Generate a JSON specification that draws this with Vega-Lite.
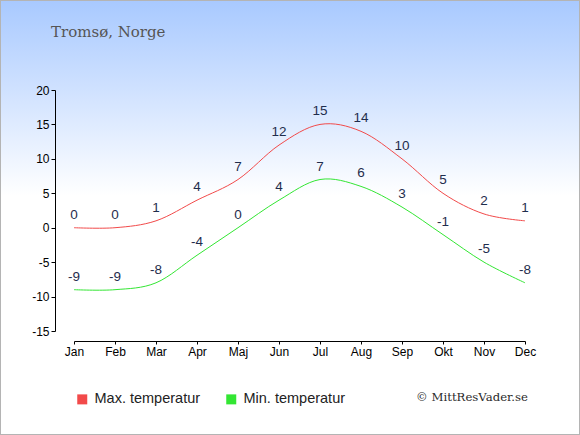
{
  "$schema": "https://vega.github.io/schema/vega-lite/v6.json",
  "width": 580,
  "height": 435,
  "autosize": {"type": "none"},
  "padding": 0,
  "background": "#ffffff",
  "view": {
    "fill": {
      "gradient": "linear",
      "x1": 0, "y1": 0, "x2": 0, "y2": 1,
      "stops": [
        {"offset": 0, "color": "#a8c9ff"},
        {"offset": 0.22, "color": "#d2e3ff"},
        {"offset": 0.45, "color": "#ffffff"},
        {"offset": 1, "color": "#ffffff"}
      ]
    },
    "stroke": "#b4b4b4",
    "strokeWidth": 2
  },
  "title": {
    "text": "Tromsø, Norge",
    "anchor": "start",
    "frame": "group",
    "font": "DejaVu Serif",
    "fontSize": 15,
    "fontWeight": "normal",
    "color": "#555555",
    "baseline": "alphabetic",
    "offset": 0,
    "dx": 51,
    "dy": 52
  },
  "datasets": {
    "temps": [
      {"month": "Jan", "serie": "Max. temperatur", "temp": 0},
      {"month": "Feb", "serie": "Max. temperatur", "temp": 0},
      {"month": "Mar", "serie": "Max. temperatur", "temp": 1},
      {"month": "Apr", "serie": "Max. temperatur", "temp": 4},
      {"month": "Maj", "serie": "Max. temperatur", "temp": 7},
      {"month": "Jun", "serie": "Max. temperatur", "temp": 12},
      {"month": "Jul", "serie": "Max. temperatur", "temp": 15},
      {"month": "Aug", "serie": "Max. temperatur", "temp": 14},
      {"month": "Sep", "serie": "Max. temperatur", "temp": 10},
      {"month": "Okt", "serie": "Max. temperatur", "temp": 5},
      {"month": "Nov", "serie": "Max. temperatur", "temp": 2},
      {"month": "Dec", "serie": "Max. temperatur", "temp": 1},
      {"month": "Jan", "serie": "Min. temperatur", "temp": -9},
      {"month": "Feb", "serie": "Min. temperatur", "temp": -9},
      {"month": "Mar", "serie": "Min. temperatur", "temp": -8},
      {"month": "Apr", "serie": "Min. temperatur", "temp": -4},
      {"month": "Maj", "serie": "Min. temperatur", "temp": 0},
      {"month": "Jun", "serie": "Min. temperatur", "temp": 4},
      {"month": "Jul", "serie": "Min. temperatur", "temp": 7},
      {"month": "Aug", "serie": "Min. temperatur", "temp": 6},
      {"month": "Sep", "serie": "Min. temperatur", "temp": 3},
      {"month": "Okt", "serie": "Min. temperatur", "temp": -1},
      {"month": "Nov", "serie": "Min. temperatur", "temp": -5},
      {"month": "Dec", "serie": "Min. temperatur", "temp": -8}
    ],
    "note": [
      {"label": "© MittResVader.se"}
    ]
  },
  "layer": [
    {
      "data": {"name": "temps"},
      "encoding": {
        "x": {
          "field": "month",
          "type": "ordinal",
          "scale": {
            "type": "point",
            "domain": ["Jan", "Feb", "Mar", "Apr", "Maj", "Jun", "Jul", "Aug", "Sep", "Okt", "Nov", "Dec"],
            "range": [74, 525],
            "padding": 0
          },
          "axis": {
            "title": null,
            "orient": "bottom",
            "offset": -94,
            "labelAngle": 0,
            "tickSize": 3,
            "labelPadding": 2
          }
        },
        "y": {
          "field": "temp",
          "type": "quantitative",
          "scale": {"domain": [-15, 20], "range": [331, 90], "nice": false, "zero": false},
          "axis": {
            "title": null,
            "orient": "left",
            "offset": -55,
            "values": [-15, -10, -5, 0, 5, 10, 15, 20],
            "tickSize": 4,
            "labelPadding": 2
          }
        }
      },
      "layer": [
        {
          "mark": {"type": "line", "interpolate": "cardinal", "strokeWidth": 1},
          "encoding": {
            "color": {
              "field": "serie",
              "type": "nominal",
              "scale": {
                "domain": ["Max. temperatur", "Min. temperatur"],
                "range": ["#f24a4a", "#33e633"]
              },
              "legend": {
                "title": null,
                "orient": "none",
                "legendX": 75,
                "legendY": 392,
                "direction": "horizontal",
                "symbolType": "square",
                "symbolSize": 100,
                "symbolStrokeWidth": 0,
                "labelOffset": 5,
                "columnPadding": 23,
                "labelFont": "Liberation Sans",
                "labelFontSize": 14.5,
                "labelColor": "#222222",
                "encode": {
                  "symbols": {
                    "update": {
                      "fill": {"scale": "color", "field": "value"},
                      "opacity": {"value": 1}
                    }
                  }
                }
              }
            }
          }
        },
        {
          "mark": {
            "type": "text",
            "dy": -13,
            "font": "Liberation Sans",
            "fontSize": 13.5,
            "color": "#1f2d4d"
          },
          "encoding": {
            "text": {"field": "temp", "type": "quantitative"}
          }
        }
      ]
    },
    {
      "data": {"name": "note"},
      "mark": {
        "type": "text",
        "align": "right",
        "baseline": "middle",
        "dx": 3,
        "font": "DejaVu Serif",
        "fontSize": 11.7,
        "color": "#2a2a2a"
      },
      "encoding": {
        "x": {"datum": "Dec", "type": "ordinal"},
        "y": {"datum": -24.6, "type": "quantitative"},
        "text": {"field": "label", "type": "nominal"}
      }
    }
  ],
  "config": {
    "locale": {
      "number": {
        "decimal": ".",
        "thousands": ",",
        "grouping": [3],
        "currency": ["", ""],
        "minus": "-"
      }
    },
    "axis": {
      "grid": false,
      "domainColor": "#000000",
      "tickColor": "#000000",
      "labelColor": "#000000",
      "labelFont": "Liberation Sans",
      "labelFontSize": 12
    }
  }
}
